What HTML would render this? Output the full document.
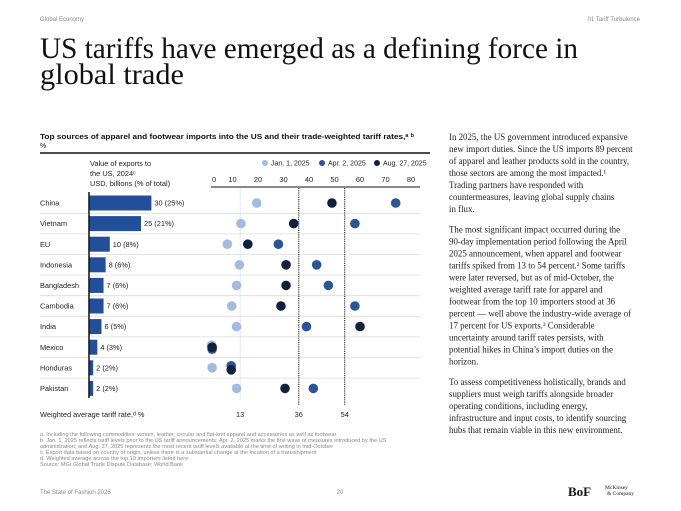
<!DOCTYPE html>
<html><head><meta charset="utf-8"><style>
html,body{margin:0;padding:0;background:#fff;}
svg{display:block;}
.sans{font-family:"Liberation Sans",sans-serif;}
.serif{font-family:"Liberation Serif",serif;}
</style></head><body>
<svg id="page" width="681" height="511" viewBox="0 0 681 511">
<text x="40" y="21" class="sans" font-size="6" fill="#888">Global Economy</text>
<text x="640" y="21" class="sans" font-size="6" fill="#888" text-anchor="end">01 Tariff Turbulence</text>
<text x="40" y="58" class="serif" font-size="30" fill="#111" textLength="538" lengthAdjust="spacingAndGlyphs">US tariffs have emerged as a defining force in</text>
<text x="40" y="84" class="serif" font-size="30" fill="#111" textLength="144" lengthAdjust="spacingAndGlyphs">global trade</text>

<text x="40" y="139" class="sans" font-size="7.6" font-weight="bold" fill="#111" textLength="374" lengthAdjust="spacingAndGlyphs">Top sources of apparel and footwear imports into the US and their trade-weighted tariff rates,ᵃ ᵇ</text>
<text x="40" y="148" class="sans" font-size="7" fill="#111">%</text>
<line x1="40" y1="153" x2="430" y2="153" stroke="#111" stroke-width="1.5"/>

<text x="90" y="166" class="sans" font-size="7.4" fill="#222">Value of exports to</text>
<text x="90" y="176" class="sans" font-size="7.4" fill="#222">the US, 2024ᶜ</text>
<text x="90" y="186" class="sans" font-size="7.4" fill="#222">USD, billions (% of total)</text>

<g id="legend"></g>
<g id="chart"></g>

<g id="body" class="serif" font-size="8.9" fill="#222"></g>

<g id="notes" class="sans" font-size="5.6" fill="#888"></g>

<text x="40" y="494" class="sans" font-size="6" fill="#888">The State of Fashion 2026</text>
<text x="340" y="494" class="sans" font-size="6" fill="#888" text-anchor="middle">20</text>
<text x="568" y="496" class="serif" font-size="13" font-weight="bold" fill="#111">BoF</text>
<text x="605" y="489" class="serif" font-size="5.5" fill="#111">McKinsey</text>
<text x="607" y="495" class="serif" font-size="5.5" fill="#111">&amp; Company</text>
</svg>
<script>
const countries = ["China","Vietnam","EU","Indonesia","Bangladesh","Cambodia","India","Mexico","Honduras","Pakistan"];
const exportValues = [30,25,10,8,7,7,6,4,2,2];
const exportLabels = ["30 (25%)","25 (21%)","10 (8%)","8 (6%)","7 (6%)","7 (6%)","6 (5%)","4 (3%)","2 (2%)","2 (2%)"];
const janRates = [19.5,13.3,8,12.7,11.6,9.7,11.6,1.8,2,11.6];
const aprRates = [74,58,28,43,47.6,58,39,2,9.5,41.7];
const augRates = [49,34,16,31,31,29,60,2,9.5,30.6];
const avgRates = [13,36,54];
const ticks = [0,10,20,30,40,50,60,70,80];
const seriesNames = ["Jan. 1, 2025","Apr. 2, 2025","Aug. 27, 2025"];

const NS="http://www.w3.org/2000/svg";
const C={jan:"#a3bbdf",apr:"#2b5597",aug:"#10203f",bar:"#234f9a"};
function xs(v){return 207+v*2.55;}
function bw(v){return v*2.08;}
function rowY(i){return 203+i*20.6;}
function mk(parent,tag,attrs){const e=document.createElementNS(NS,tag);for(const k in attrs)e.setAttribute(k,attrs[k]);parent.appendChild(e);return e;}
const chart=document.getElementById('chart');
const legend=document.getElementById('legend');

const legX=[265,322,377], legCol=[C.jan,C.apr,C.aug];
seriesNames.forEach((n,i)=>{
  const c=mk(legend,'circle',{cx:legX[i],cy:163,r:3,fill:legCol[i]});
  
  
  const t=mk(legend,'text',{x:legX[i]+6,y:165.5,'font-size':7,fill:'#222','font-family':'Liberation Sans, sans-serif'});
  t.textContent=n;
  
  
});

ticks.forEach(v=>{
  const t=mk(chart,'text',{x:xs(v)+(v===0?7:0),y:182,'text-anchor':'middle','font-size':7.4,fill:'#222','font-family':'Liberation Sans, sans-serif'});
  t.textContent=v;
  
  
});
const ax=mk(chart,'line',{x1:211,y1:187,x2:420,y2:187,stroke:'#111','stroke-width':1});



countries.forEach((c,i)=>{
  if(i>0){
    const l=mk(chart,'line',{x1:40,y1:rowY(i)-10.3,x2:420,y2:rowY(i)-10.3,stroke:'#dcdcdc','stroke-width':0.8});
    
    
  }
});

avgRates.forEach((v,i)=>{
  const l=mk(chart,'line',{x1:xs(v),y1:188,x2:xs(v),y2:i===0?400:405,stroke:i===0?'#b8cbe8':'#111','stroke-width':i===0?0.8:1,'stroke-dasharray':'1.2,1'});
  
  
  const t=mk(chart,'text',{x:xs(v),y:417,'text-anchor':'middle','font-size':7.4,fill:'#222','font-family':'Liberation Sans, sans-serif'});
  t.textContent=v;
  
  
});
const wl=mk(chart,'text',{x:40,y:417,'font-size':7.4,fill:'#222','font-family':'Liberation Sans, sans-serif'});
wl.textContent='Weighted average tariff rate,ᵈ %';



countries.forEach((c,i)=>{
  const y=rowY(i);
  const t=mk(chart,'text',{x:40,y:y+2.6,'font-size':7.4,fill:'#222','font-family':'Liberation Sans, sans-serif'});
  t.textContent=c;
  
  
  const b=mk(chart,'rect',{x:89,y:y-7.5,width:bw(exportValues[i]),height:15,fill:C.bar});
  
  
  const bl=mk(chart,'text',{x:89+bw(exportValues[i])+3,y:y+2.6,'font-size':7.4,fill:'#222','font-family':'Liberation Sans, sans-serif'});
  bl.textContent=exportLabels[i];
  
  
  const dy = c==="Mexico"? [-2,2,0] : (c==="Honduras"?[0,-2,2]:[0,0,0]);
  [[janRates,C.jan,'jan'],[aprRates,C.apr,'apr'],[augRates,C.aug,'aug']].forEach(([arr,col,nm],k)=>{
    const d=mk(chart,'circle',{cx:xs(arr[i]),cy:y+dy[k],r:4.8,fill:col});
    
    
  });
});
const bax=mk(chart,'line',{x1:89,y1:192,x2:89,y2:398,stroke:'#111','stroke-width':1.5});



const body=document.getElementById('body');
const paras=[[140,["In 2025, the US government introduced expansive","new import duties. Since the US imports 89 percent","of apparel and leather products sold in the country,","those sectors are among the most impacted.¹","Trading partners have responded with","countermeasures, leaving global supply chains","in flux."]],
[232.7,["The most significant impact occurred during the","90-day implementation period following the April","2025 announcement, when apparel and footwear","tariffs spiked from 13 to 54 percent.² Some tariffs","were later reversed, but as of mid-October, the","weighted average tariff rate for apparel and","footwear from the top 10 importers stood at 36","percent — well above the industry-wide average of","17 percent for US exports.² Considerable","uncertainty around tariff rates persists, with","potential hikes in China’s import duties on the","horizon."]],
[385,["To assess competitiveness holistically, brands and","suppliers must weigh tariffs alongside broader","operating conditions, including energy,","infrastructure and input costs, to identify sourcing","hubs that remain viable in this new environment."]]];
paras.forEach(([y0,lines],p)=>{
  lines.forEach((s,j)=>{
    const t=mk(body,'text',{x:449,y:y0+j*12});
    t.textContent=s;
    
    
  });
});
const notes=document.getElementById('notes');
["a. Including the following commodities: woven, leather, circular and flat-knit apparel and accessories as well as footwear",
"b. Jan. 1, 2025 reflects tariff levels prior to the US tariff announcements; Apr. 2, 2025 marks the first wave of measures introduced by the US",
"administration; and Aug. 27, 2025 represents the most recent tariff levels available at the time of writing in mid-October",
"c. Export data based on country of origin, unless there is a substantial change at the location of a transshipment",
"d. Weighted average across the top 10 importers listed here",
"Source: MGI Global Trade Dispute Database; World Bank"].forEach((s,j)=>{
  const t=mk(notes,'text',{x:40,y:436+j*6});
  t.textContent=s;
  
  
});
</script>
</body></html>
